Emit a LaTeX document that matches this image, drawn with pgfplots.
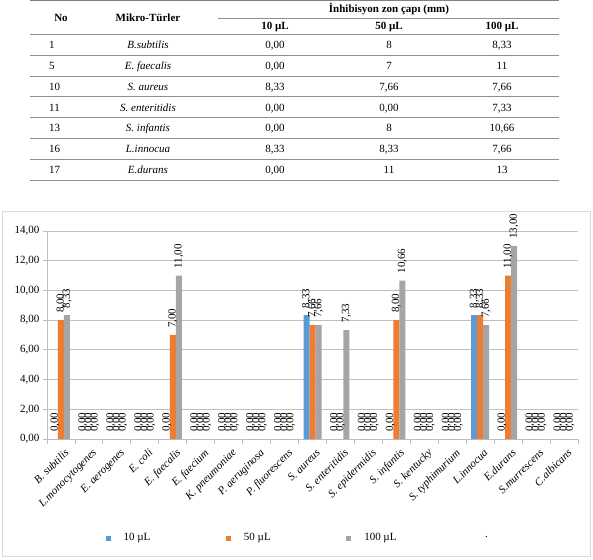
\documentclass[border=0pt]{standalone}
\usepackage{fontspec}
\setmainfont{Liberation Serif}
\usepackage{pgfplots}
\usepackage{pgfplotstable}
\pgfplotsset{compat=1.18}

\definecolor{c10}{HTML}{5B9BD5}
\definecolor{c50}{HTML}{ED7D31}
\definecolor{c100}{HTML}{A5A5A5}
\definecolor{rulegray}{HTML}{8F8F8F}
\definecolor{framegray}{HTML}{DADADA}
\definecolor{gridgray}{HTML}{BFBFBF}

% Inhibition zone diameters (mm) per micro-organism, three doses
\pgfplotstableread{
idx v10 v50 v100
0 0 8 8.33
1 0 0 0
2 0 0 0
3 0 0 0
4 0 7 11
5 0 0 0
6 0 0 0
7 0 0 0
8 0 0 0
9 8.33 7.66 7.66
10 0 0 7.33
11 0 0 0
12 0 8 10.66
13 0 0 0
14 0 0 0
15 8.33 8.33 7.66
16 0 11 13
17 0 0 0
18 0 0 0
}\zones

\newcommand\tfont{\fontsize{11}{13}\selectfont}
% one table row: y, No, species, 10 uL, 50 uL, 100 uL
\newcommand\trow[6]{%
  \node[anchor=mid west, inner xsep=0pt] at (49pt,#1pt) {\tfont #2};
  \node[anchor=mid] at (148pt,#1pt) {\tfont\itshape #3};
  \node[anchor=mid] at (275pt,#1pt) {\tfont #4};
  \node[anchor=mid] at (389pt,#1pt) {\tfont #5};
  \node[anchor=mid] at (502pt,#1pt) {\tfont #6};
}

\begin{document}
\begin{tikzpicture}
\useasboundingbox (0pt,0pt) rectangle (593pt,559pt);

% ---- table ----
\draw[rulegray!90!black, line width=1pt] (30pt,558pt) -- (559pt,558pt);
\draw[rulegray, line width=0.9pt] (218pt,541pt) -- (559pt,541pt);
\draw[rulegray, line width=0.9pt] (30pt,524.5pt) -- (559pt,524.5pt);
\foreach \yy in {503.7,482.9,462.1,441.3,420.5,399.7,378.9}
  \draw[rulegray, line width=0.9pt] (30pt,\yy pt) -- (559pt,\yy pt);
\node[anchor=mid] at (61pt,540pt) {\tfont\bfseries No};
\node[anchor=mid] at (148pt,540pt) {\tfont\bfseries Mikro-Türler};
\node[anchor=mid] at (389pt,548.5pt) {\tfont\bfseries İnhibisyon zon çapı (mm)};
\node[anchor=mid] at (275pt,532pt) {\tfont\bfseries 10 µL};
\node[anchor=mid] at (389pt,532pt) {\tfont\bfseries 50 µL};
\node[anchor=mid] at (502pt,532pt) {\tfont\bfseries 100 µL};
\trow{512.6}{1}{B.subtilis}{0,00}{8}{8,33}
\trow{491.8}{5}{E. faecalis}{0,00}{7}{11}
\trow{471.0}{10}{S. aureus}{8,33}{7,66}{7,66}
\trow{450.2}{11}{S. enteritidis}{0,00}{0,00}{7,33}
\trow{429.4}{13}{S. infantis}{0,00}{8}{10,66}
\trow{408.6}{16}{L.innocua}{8,33}{8,33}{7,66}
\trow{387.8}{17}{E.durans}{0,00}{11}{13}

% ---- chart frame ----
\draw[framegray, line width=1pt] (2pt,347pt) rectangle (590pt,3pt);

\begin{axis}[
  at={(47pt,120pt)}, anchor=south west,
  scale only axis, width=531pt, height=208pt,
  ybar=0pt, bar width=6pt,
  xmin=-0.5, xmax=18.5, ymin=0, ymax=14,
  ytick={0,2,...,14},
  xtick={0,...,18},
  every major x tick/.append style={draw=none},
  minor xtick={-0.5,0.5,...,18.5},
  xticklabels={B. subtilis, L.monocytogenes, E. aerogenes, E. coli, E. faecalis,
    E. faecium, K. pneumoniae, P. aeruginosa, P. fluorescens, S. aureus,
    S. enteritidis, S. epidermidis, S. infantis, S. kentucky, S. typhimurium,
    L.innocua, E.durans, S.murrescens, C.albicans},
  tick align=outside, major tick length=4pt, minor tick length=5pt,
  tick style={gridgray, line width=0.8pt},
  axis x line*=bottom, axis y line*=left,
  axis line style={gridgray, line width=0.8pt},
  ymajorgrids, grid style={gridgray, line width=0.8pt},
  /pgf/number format/assume math mode=true,
  tick label style={font=\fontsize{11}{13}\selectfont},
  yticklabel style={/pgf/number format/.cd, fixed, fixed zerofill, precision=2, use comma},
  xticklabel style={xshift=3pt, yshift=-2pt, rotate=45, anchor=north east, font=\fontsize{11}{13}\selectfont\itshape, inner sep=2pt},
  nodes near coords={\pgfmathprintnumber[fixed,fixed zerofill,precision=2,use comma]{\pgfplotspointmeta}},
  every node near coord/.append style={rotate=90, anchor=west, inner xsep=7pt, font=\fontsize{11}{13}\selectfont},
  legend columns=4,
  legend style={at={(axis description cs:0.1044,-0.476)}, anchor=west, draw=none, fill=none,
    font=\fontsize{11}{13}\selectfont,
    /tikz/every odd column/.append style={column sep=11pt},
    /tikz/every even column/.append style={column sep=73.5pt},
    /tikz/column 6/.append style={column sep=66.5pt}},
]
\addplot[fill=c10, draw=none, legend image code/.code={\fill[c10] (0pt,-2.5pt) rectangle (5pt,2.5pt);}] table[x=idx, y=v10] {\zones};
\addlegendentry{10 µL}
\addplot[fill=c50, draw=none, legend image code/.code={\fill[c50] (0pt,-2.5pt) rectangle (5pt,2.5pt);}] table[x=idx, y=v50] {\zones};
\addlegendentry{50 µL}
\addplot[fill=c100, draw=none, legend image code/.code={\fill[c100] (0pt,-2.5pt) rectangle (5pt,2.5pt);}] table[x=idx, y=v100] {\zones};
\addlegendentry{100 µL}
\addlegendimage{empty legend}
\addlegendentry{.}
\end{axis}
\end{tikzpicture}
\end{document}
